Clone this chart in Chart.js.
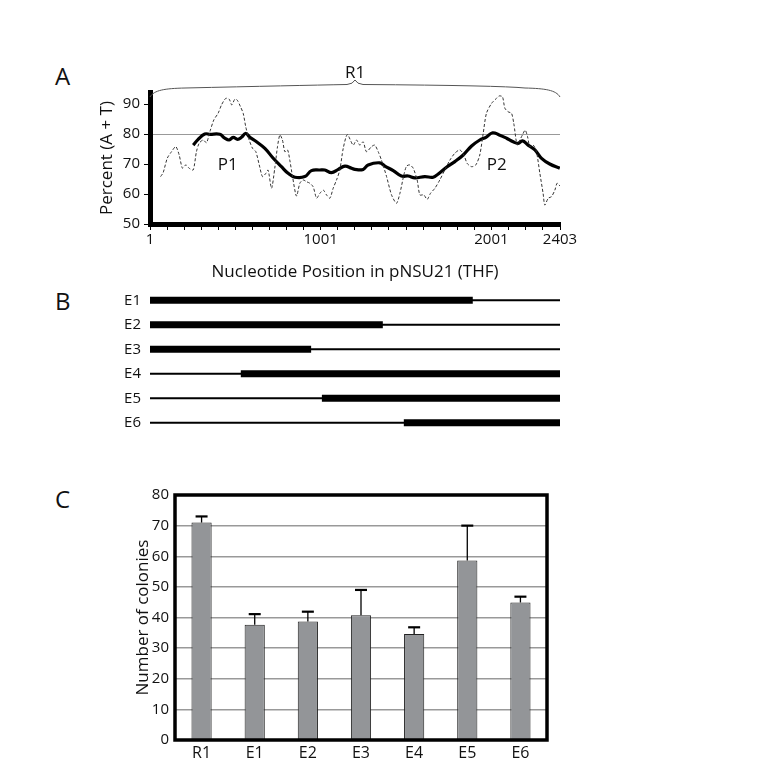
<!DOCTYPE html>
<html>
<head>
<meta charset="utf-8">
<script src="https://cdn.jsdelivr.net/npm/chart.js@4.4.1/dist/chart.umd.min.js"></script>
<style>
  body { margin: 0; background: #fff; width: 781px; height: 764px; position: relative; overflow: hidden; font-family: "Open Sans", sans-serif; }
  canvas { position: absolute; left: 0; }
  .panel { position: absolute; font-size: 24px; color: #111; line-height: 1; }
</style>
</head>
<body>
<div class="panel" style="left:55px;top:64px">A</div>
<div class="panel" style="left:55px;top:289px">B</div>
<div class="panel" style="left:55px;top:487px">C</div>
<canvas id="chartA" width="781" height="224" style="top:60px"></canvas>
<canvas id="chartB" width="781" height="167" style="top:278px"></canvas>
<canvas id="chartC" width="781" height="284" style="top:480px"></canvas>
<script>
// ===== 数据 =====
// A: 滑动窗口 A+T 百分比（虚线）与平滑曲线（粗线）
const rawPos = [63, 78, 102, 127, 152, 172, 191, 211, 230, 254, 273, 289, 312, 332, 352, 375, 400, 420, 445, 465,
  480, 498, 512, 531, 547, 562, 582, 602, 621, 641, 660, 680, 693, 713, 732, 748, 762, 777, 791, 807,
  820, 836, 859, 879, 898, 918, 937, 957, 977, 996, 1016, 1035, 1055, 1074, 1094, 1113, 1133, 1157, 1191, 1211,
  1230, 1250, 1269, 1299, 1318, 1338, 1357, 1387, 1416, 1445, 1465, 1488, 1504, 1523, 1543, 1566, 1582, 1605, 1625, 1644,
  1670, 1699, 1728, 1758, 1787, 1816, 1840, 1859, 1885, 1910, 1933, 1953, 1972, 2002, 2031, 2047, 2066, 2080, 2099, 2119,
  2132, 2152, 2168, 2183, 2199, 2213, 2226, 2246, 2265, 2285, 2304, 2314, 2334, 2353, 2373, 2386, 2402];
const rawPct = [65.8, 67.1, 71.9, 74.1, 75.8, 73, 68.6, 69.7, 68.6, 68, 74.1, 76.9, 78, 77.1, 80.8, 84.7, 86.9, 89.7, 91.9, 91.6,
  89.7, 91.6, 91.3, 89.1, 86.9, 82.4, 78, 75.2, 74.1, 69.7, 65.8, 66.9, 68, 61.9, 68.6, 75.8, 79.7, 78, 74.1, 74.7,
  71.3, 65.8, 59.3, 63.6, 64.7, 64.1, 63.6, 62.4, 58.6, 60.2, 61.3, 59.7, 58.6, 61.9, 64.7, 68, 75.2, 79.8, 76.3, 78,
  76.3, 77.4, 74.1, 75.8, 76.3, 74.1, 71.3, 65.8, 59.7, 56.9, 60.2, 66.3, 69.3, 69.7, 68.6, 64.7, 59.7, 59.7, 58.2, 60.2,
  61.9, 64.7, 68, 71.3, 73.6, 74.7, 73, 70.2, 69.1, 69.7, 73, 80.2, 86.9, 90.2, 91.9, 92.7, 92.4, 88.6, 87.4, 86.9,
  83.6, 76.3, 78, 79.7, 81.3, 79.1, 75.8, 76.3, 74.1, 66.9, 60.2, 56.3, 58.6, 59.1, 61.3, 63.6, 62.7];
const smoothPos = [254, 283, 322, 352, 410, 439, 465, 488, 514, 537, 562, 586, 625, 674, 723, 771, 810, 850, 908, 947,
  996, 1025, 1064, 1104, 1143, 1182, 1201, 1250, 1279, 1347, 1377, 1426, 1474, 1513, 1553, 1611, 1660, 1699, 1738, 1787,
  1836, 1885, 1933, 1969, 2008, 2047, 2090, 2129, 2158, 2183, 2216, 2256, 2295, 2343, 2402];
const smoothPct = [76.3, 78.2, 80, 79.9, 79.9, 78.6, 78, 78.9, 78.2, 78.9, 80.2, 78.9, 77.4, 75.2, 71.9, 69.1, 66.9, 65.6, 65.8, 67.8,
  68, 68, 67.1, 68.2, 69.3, 68.6, 68.2, 68.2, 69.7, 70.4, 69.3, 67.8, 66, 66, 65.4, 65.8, 65.6, 67.1, 68.9, 70.8,
  73, 76, 78, 78.9, 80.4, 79.7, 78.6, 77.4, 76.9, 77.7, 76.3, 74.7, 71.9, 70, 68.6];
const posTickLabels = [1, 1001, 2001, 2403];
const pctTickLabels = [50, 60, 70, 80, 90];

// B: 各缺失片段，粗线段 = 保留区域
const eNames = ['E1', 'E2', 'E3', 'E4', 'E5', 'E6'];
const keepFrom = [1, 1, 1, 533, 1008, 1488];
const keepTo = [1892, 1365, 945, 2403, 2403, 2403];

// C: 菌落数（均值 + 误差）
const cCats = ['R1', 'E1', 'E2', 'E3', 'E4', 'E5', 'E6'];
const colonies = [71, 37.6, 38.7, 40.7, 34.6, 58.6, 44.9];
const colErr = [2, 3.5, 3.2, 8.3, 2.2, 11.4, 1.9];
const colTicks = [0, 10, 20, 30, 40, 50, 60, 70, 80];

// ===== 公共 =====
Chart.defaults.font.family = '"Open Sans", sans-serif';
Chart.defaults.color = '#111';
Chart.defaults.animation = false;
const noPlugins = { legend: { display: false }, tooltip: { enabled: false } };
const seqMin = 1, seqMax = 2403;

// A 面板的大括号和 P1/P2 标注
const annotA = {
  id: 'annotA',
  afterDraw(chart) {
    const { ctx, scales: { x, y } } = chart;
    const x1 = x.getPixelForValue(seqMin), x2 = x.getPixelForValue(seqMax);
    const xm = (x1 + x2) / 2;
    const yb = chart.chartArea.top + 5;
    ctx.save();
    ctx.strokeStyle = '#555';
    ctx.lineWidth = 1;
    ctx.beginPath();
    ctx.moveTo(x1, yb);
    ctx.bezierCurveTo(x1 + 4, yb - 7, x1 + 15, yb - 8.5, x1 + 35, yb - 9);
    ctx.quadraticCurveTo(xm - 60, yb - 11.5, xm - 8, yb - 12.5);
    ctx.quadraticCurveTo(xm - 2, yb - 13, xm, yb - 17);
    ctx.quadraticCurveTo(xm + 2, yb - 13, xm + 8, yb - 12.5);
    ctx.quadraticCurveTo(x2 - 60, yb - 11.5, x2 - 35, yb - 9);
    ctx.bezierCurveTo(x2 - 15, yb - 8.5, x2 - 4, yb - 7, x2, yb);
    ctx.stroke();
    ctx.fillStyle = '#111';
    ctx.font = '17px "Open Sans", sans-serif';
    ctx.textAlign = 'center';
    ctx.textBaseline = 'alphabetic';
    ctx.fillText('R1', xm, yb - 19);
    ctx.textBaseline = 'middle';
    ctx.fillText('P1', x.getPixelForValue(457), y.getPixelForValue(69.7));
    ctx.fillText('P2', x.getPixelForValue(2033), y.getPixelForValue(69.7));
    ctx.restore();
  }
};

new Chart(document.getElementById('chartA'), {
  type: 'line',
  data: {
    datasets: [
      {
        data: rawPos.map((p, i) => ({ x: p, y: rawPct[i] })),
        borderColor: '#333', borderWidth: 1, borderDash: [3, 2],
        pointRadius: 0, tension: 0.25
      },
      {
        data: smoothPos.map((p, i) => ({ x: p, y: smoothPct[i] })),
        borderColor: '#000', borderWidth: 3.2,
        pointRadius: 0, tension: 0.4
      }
    ]
  },
  options: {
    responsive: false,
    plugins: noPlugins,
    layout: { padding: { left: 97, right: 221, top: 32, bottom: 0 } },
    scales: {
      x: {
        type: 'linear', min: seqMin, max: seqMax,
        afterBuildTicks: (s) => {
          const t = [];
          for (let v = 1; v < 2400; v += 100) t.push({ value: v });
          t.push({ value: 2403 });
          s.ticks = t;
        },
        afterFit: (s) => { s.height = 60; },
        ticks: {
          autoSkip: false, maxRotation: 0, padding: 1,
          font: { size: 15 },
          callback: (v) => (posTickLabels.includes(v) ? String(v) : '')
        },
        grid: { drawOnChartArea: false, color: '#000', tickLength: 6, tickWidth: 1 },
        border: { color: '#000', width: 5 },
        title: { display: true, text: 'Nucleotide Position in pNSU21 (THF)', font: { size: 17 }, padding: { top: 2, bottom: 2 } }
      },
      y: {
        min: 50, max: 94,
        afterFit: (s) => { s.width = 53; },
        ticks: {
          stepSize: 5, includeBounds: false, padding: 4,
          font: { size: 15 },
          callback: (v) => (pctTickLabels.includes(v) ? String(v) : '')
        },
        grid: {
          color: (c) => (c.tick && c.tick.value === 80 ? '#999' : 'rgba(0,0,0,0)'),
          tickColor: '#000', tickLength: 6, tickWidth: 1
        },
        border: { color: '#000', width: 5 },
        title: { display: true, text: 'Percent (A + T)', font: { size: 17 }, padding: { top: 0, bottom: 2 } }
      }
    }
  },
  plugins: [annotA]
});

// ===== B =====
const bSets = [];
eNames.forEach((name, i) => {
  bSets.push({
    data: [{ x: seqMin, y: i + 1 }, { x: seqMax, y: i + 1 }],
    borderColor: '#000', borderWidth: 2, pointRadius: 0, borderCapStyle: 'butt'
  });
  bSets.push({
    data: [{ x: keepFrom[i], y: i + 1 }, { x: keepTo[i], y: i + 1 }],
    borderColor: '#000', borderWidth: 7, pointRadius: 0, borderCapStyle: 'butt'
  });
});

new Chart(document.getElementById('chartB'), {
  type: 'line',
  data: { datasets: bSets },
  options: {
    responsive: false,
    plugins: noPlugins,
    layout: { padding: { left: 0, right: 221, top: 8, bottom: 6 } },
    scales: {
      x: { type: 'linear', min: seqMin, max: seqMax, display: false },
      y: {
        min: 0.5, max: 6.5, reverse: true,
        afterFit: (s) => { s.width = 150; },
        afterBuildTicks: (s) => { s.ticks = eNames.map((n, i) => ({ value: i + 1 })); },
        ticks: { padding: 1, font: { size: 15 }, callback: (v) => eNames[v - 1] },
        grid: { display: false },
        border: { display: false }
      }
    }
  }
});

// ===== C =====
const errBars = {
  id: 'errBars',
  afterDatasetsDraw(chart) {
    const { ctx } = chart;
    const y = chart.scales.y;
    const meta = chart.getDatasetMeta(0);
    ctx.save();
    ctx.strokeStyle = '#000';
    meta.data.forEach((bar, i) => {
      const top = y.getPixelForValue(colonies[i] + colErr[i]);
      ctx.lineWidth = 1.3;
      ctx.beginPath();
      ctx.moveTo(bar.x, bar.y);
      ctx.lineTo(bar.x, top);
      ctx.stroke();
      ctx.lineWidth = 2.2;
      ctx.beginPath();
      ctx.moveTo(bar.x - 6, top);
      ctx.lineTo(bar.x + 6, top);
      ctx.stroke();
    });
    ctx.restore();
  },
  afterDraw(chart) {
    const { ctx, chartArea: a } = chart;
    ctx.save();
    ctx.strokeStyle = '#000';
    ctx.lineWidth = 3.5;
    ctx.strokeRect(a.left, a.top, a.right - a.left, a.bottom - a.top);
    ctx.restore();
  }
};

new Chart(document.getElementById('chartC'), {
  type: 'bar',
  data: {
    labels: cCats,
    datasets: [{
      data: colonies,
      backgroundColor: '#939598', borderColor: '#222', borderWidth: 1,
      categoryPercentage: 1, barPercentage: 0.38
    }]
  },
  options: {
    responsive: false,
    plugins: noPlugins,
    layout: { padding: { left: 133, right: 234, top: 13, bottom: 0 } },
    scales: {
      x: {
        afterFit: (s) => { s.height = 24; },
        ticks: { padding: -4, font: { size: 16 } },
        grid: { display: false },
        border: { display: false }
      },
      y: {
        min: 0, max: 80,
        afterFit: (s) => { s.width = 42; },
        afterBuildTicks: (s) => { s.ticks = colTicks.map((v) => ({ value: v })); },
        ticks: { padding: 6, font: { size: 15 } },
        grid: {
          drawTicks: false, lineWidth: 1.5,
          color: (c) => (c.tick && (c.tick.value === 0 || c.tick.value === 80) ? 'rgba(0,0,0,0)' : '#999')
        },
        border: { display: false },
        title: { display: true, text: 'Number of colonies', font: { size: 17 }, padding: { top: 0, bottom: 4 } }
      }
    }
  },
  plugins: [errBars]
});
</script>
</body>
</html>
